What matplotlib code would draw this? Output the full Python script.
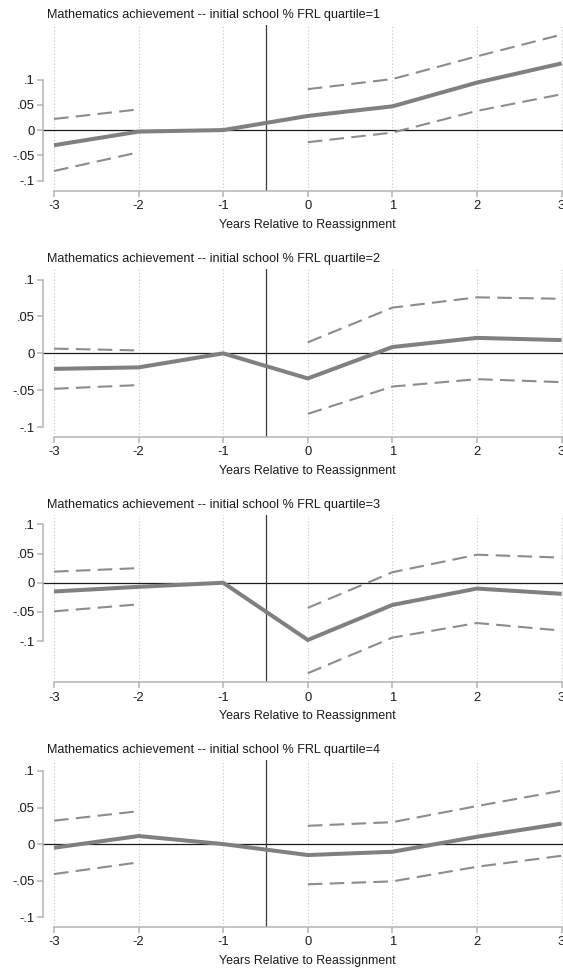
import numpy as np
import matplotlib
matplotlib.use("Agg")
import matplotlib.pyplot as plt

plt.rcParams['font.family'] = ['Liberation Sans', 'DejaVu Sans']

years = [-3, -2, -1, 0, 1, 2, 3]
quartiles = [1, 2, 3, 4]
nan = np.nan

est_q1 = [-0.030, -0.003, 0.0, 0.028, 0.047, 0.094, 0.132]
hi_q1 = [0.022, 0.041, nan, 0.081, 0.101, 0.146, 0.189]
lo_q1 = [-0.081, -0.044, nan, -0.024, -0.005, 0.038, 0.071]

est_q2 = [-0.021, -0.019, 0.0, -0.034, 0.0086, 0.021, 0.018]
hi_q2 = [0.0064, 0.004, nan, 0.015, 0.062, 0.076, 0.074]
lo_q2 = [-0.048, -0.043, nan, -0.082, -0.045, -0.035, -0.039]

est_q3 = [-0.015, -0.007, 0.0, -0.098, -0.038, -0.010, -0.019]
hi_q3 = [0.019, 0.025, nan, -0.043, 0.018, 0.048, 0.043]
lo_q3 = [-0.049, -0.037, nan, -0.155, -0.094, -0.069, -0.082]

est_q4 = [-0.005, 0.011, 0.0, -0.015, -0.0105, 0.010, 0.028]
hi_q4 = [0.032, 0.045, nan, 0.025, 0.030, 0.052, 0.073]
lo_q4 = [-0.041, -0.025, nan, -0.055, -0.051, -0.031, -0.016]

panels = [
    (est_q1, hi_q1, lo_q1),
    (est_q2, hi_q2, lo_q2),
    (est_q3, hi_q3, lo_q3),
    (est_q4, hi_q4, lo_q4),
]

yticks = [-0.1, -0.05, 0, 0.05, 0.1]
ytick_labels = ['-.1', '-.05', '0', '.05', '.1']
title_fmt = "Mathematics achievement -- initial school % FRL quartile={}"
xlabel = "Years Relative to Reassignment"

W, H = 563, 971
fig = plt.figure(figsize=(W / 100, H / 100), dpi=100)
fig.patch.set_facecolor('white')

# pixel layout (top, bottom) of each plot region
layout = [(25, 190.7), (269.3, 436.7), (515, 682), (760, 926.7)]
ylims = [(-0.120, 0.208), (-0.113, 0.114), (-0.170, 0.116), (-0.113, 0.115)]

x_left_px = 43.3
px_per_unit = 84.6
xlim = (-3 - (54 - x_left_px) / px_per_unit, 3 + (54 - x_left_px) / px_per_unit)
ax_w_px = (xlim[1] - xlim[0]) * px_per_unit

spine_col = '#b4b4b4'
text_col = '#1a1a1a'

for i, (q, (est, hi, lo)) in enumerate(zip(quartiles, panels)):
    top, bot = layout[i]
    ax = fig.add_axes([x_left_px / W, 1 - bot / H, ax_w_px / W, (bot - top) / H])
    ax.set_xlim(*xlim)
    ax.set_ylim(*ylims[i])
    ax.set_facecolor('white')

    for s in ['top', 'right']:
        ax.spines[s].set_visible(False)
    ax.spines['left'].set_bounds(-0.1, 0.1)
    ax.spines['bottom'].set_bounds(-3, 3)
    for s in ['left', 'bottom']:
        ax.spines[s].set_color(spine_col)
        ax.spines[s].set_linewidth(1.1)

    ax.set_xticks(years)
    ax.set_xticklabels([str(y) for y in years])
    ax.set_yticks(yticks)
    ax.set_yticklabels(ytick_labels)
    ax.tick_params(axis='both', colors=spine_col, labelcolor=text_col,
                   labelsize=9.4, length=4, width=1.1, direction='out')
    ax.tick_params(axis='x', pad=3)
    ax.tick_params(axis='y', pad=2)

    for x in years:
        ax.axvline(x, color='#c4c4c4', lw=0.8, ls=(0, (1, 2)), zorder=1)

    ax.axhline(0, color='#1a1a1a', lw=0.9, zorder=2)
    ax.axvline(-0.5, color='#3a3a3a', lw=0.9, zorder=2)

    ax.plot(years, hi, color='#8c8c8c', lw=1.5, dashes=(7, 3.5), zorder=3)
    ax.plot(years, lo, color='#8c8c8c', lw=1.5, dashes=(7, 3.5), zorder=3)
    ax.plot(years, est, color='#808080', lw=2.9, solid_capstyle='butt',
            solid_joinstyle='miter', zorder=4)

    fig.text(46.7 / W, 1 - (top - 10) / H, title_fmt.format(q),
             fontsize=9.1, color=text_col, ha='left', va='center')
    fig.text(307 / W, 1 - (bot + 34.5) / H, xlabel,
             fontsize=8.9, color=text_col, ha='center', va='center')

fig.savefig('out.png', dpi=100, facecolor='white')
